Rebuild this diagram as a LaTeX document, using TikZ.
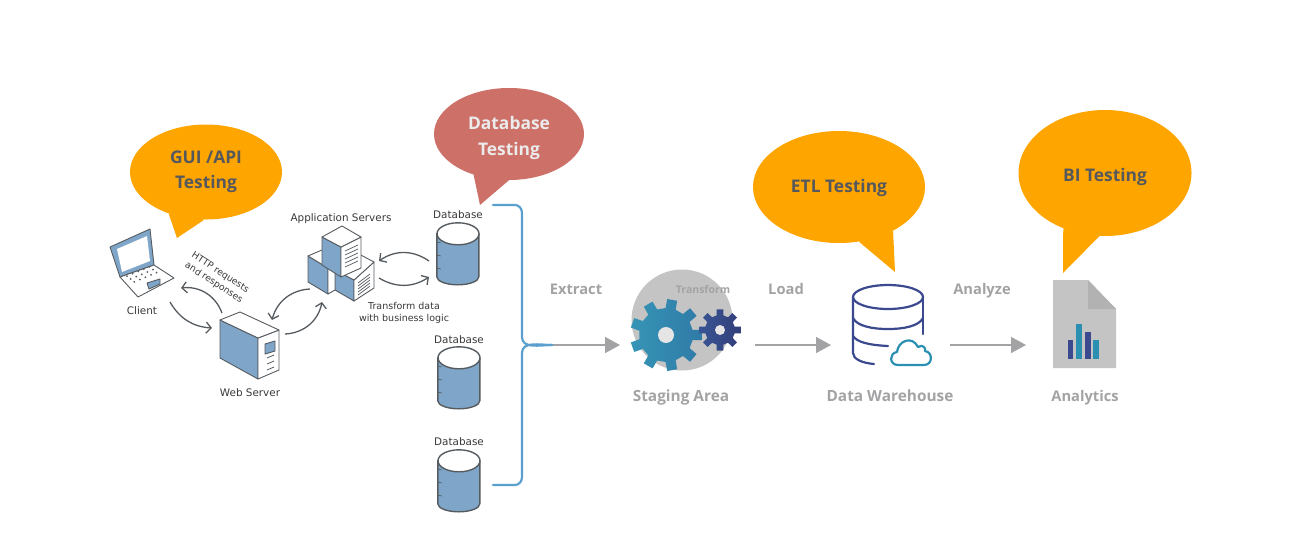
\documentclass[tikz,border=0pt]{standalone}
\usepackage{fontspec}
\setmainfont{Open Sans}
\newfontfamily\smallface{DejaVu Sans}
\usetikzlibrary{arrows.meta,shapes.geometric}
\definecolor{bubbleorange}{HTML}{FFA500}
\definecolor{bubblered}{HTML}{CD7068}
\definecolor{bubbletext}{HTML}{55585C}
\definecolor{boxblue}{HTML}{7FA6C9}
\definecolor{boxline}{HTML}{565B60}
\definecolor{bracketblue}{HTML}{5B9FCF}
\definecolor{fadegrey}{HTML}{A3A3A5}
\definecolor{navyblue}{HTML}{3B4A8F}
\definecolor{tealblue}{HTML}{2B8FB2}
\tikzset{
	bubble/.style={ellipse,inner sep=0pt,font=\fontsize{17.4}{25.5}\selectfont\bfseries,text=bubbletext,align=center},
	small/.style={font=\smallface\fontsize{10.4}{13}\selectfont,text=black!78,align=center,inner sep=0pt},
	fade/.style={anchor=base,font=\fontsize{14.7}{18}\selectfont\bfseries,text=fadegrey,inner sep=0pt},
	fadewide/.style={fade,font=\fontsize{15.4}{18}\selectfont\bfseries},
	dbase/.style={minimum width=42pt,minimum height=62pt,inner sep=0pt},
	face/.style={draw=boxline,line width=0.9pt,line join=round,fill=#1},
	flow/.style={draw=boxline,line width=1.3pt,-{Straight Barb[length=5pt,width=11pt]}},
	move/.style={draw=fadegrey,line width=1.6pt,-{Triangle[length=15pt,width=16pt]}},
	brace/.style={draw=bracketblue,line width=2.2pt,line cap=round},
	house/.style={draw=navyblue,line width=2.2pt,line cap=round},
}
\begin{document}
\begin{tikzpicture}[x=1pt,y=-1pt]
	\useasboundingbox (0,0) rectangle (1300,544);

	\node[bubble,fill=bubbleorange,minimum width=152pt,minimum height=95pt] (gui) at (206,172) {GUI /API\\Testing};
	\node[bubble,fill=bubblered,text=white!92!black,minimum width=150pt,minimum height=92pt] (dbt) at (509,134) {\rule{0pt}{21pt}Database\\Testing};
	\node[bubble,fill=bubbleorange,minimum width=172pt,minimum height=112pt] (etl) at (839,187) {\rule{0pt}{15pt}ETL Testing};
	\node[bubble,fill=bubbleorange,minimum width=173pt,minimum height=126pt] (bi) at (1105,173) {\rule{0pt}{22pt}BI Testing};
	\coordinate (guitip) at (177,238);
	\coordinate (dbttip) at (480,205);
	\coordinate (etltip) at (895,272);
	\coordinate (bitip) at (1063,273);
	\fill[bubbleorange] (gui.228) -- (guitip) -- (gui.268) -- cycle;
	\fill[bubblered] (dbt.229) -- (dbttip) -- (dbt.270) -- cycle;
	\fill[bubbleorange] (etl.290) -- (etltip) -- (etl.321) -- cycle;
	\fill[bubbleorange] (bi.233) -- (bitip) -- (bi.265) -- cycle;

	\path[face=boxblue] (110,247) -- (150,229) -- (154,265) -- (120,277) -- cycle;
	\path[face=white,draw=none] (117,249) -- (147,236) -- (150,261) -- (122,272) -- cycle;
	\path[face=white] (120,277) -- (154,265) -- (174,278) -- (138,297) -- cycle;
	\path[face=boxblue] (147,283) -- (160,279) -- (160,284) -- (149,289) -- cycle;
	\foreach \i in {0,...,4}
		\foreach \j in {0,1,2}
			\fill[boxline] ({127+\i*5.6+\j*3.6},{276-\i*2.3+\j*2.9}) circle (1pt);
	\node[small] (client) at (142,311) {Client};

	\path[face=boxblue] (220,320) -- (258,338) -- (258,379) -- (220,358) -- cycle;
	\path[face=white] (258,338) -- (279,330) -- (279,370) -- (258,379) -- cycle;
	\path[face=white] (220,320) -- (240,312) -- (279,330) -- (258,338) -- cycle;
	\path[face=boxblue] (265,344) -- (275,341) -- (275,351) -- (265,354) -- cycle;
	\foreach \i in {0,1,2}
		\draw[boxline,line width=0.8pt] (267,{358+\i*6}) -- (274,{355+\i*6});
	\node[small] (web) at (250,393) {Web Server};

	\path[face=boxblue] (335,270) -- (354,280) -- (354,301) -- (335,290) -- cycle;
	\path[face=white] (354,280) -- (374,262) -- (374,288) -- (354,301) -- cycle;
	\path[face=white] (335,270) -- (357,253) -- (374,262) -- (354,280) -- cycle;
	\foreach \i in {0,...,4}
		\draw[boxline,line width=0.7pt] (358,{283+\i*3}) -- (370,{274+\i*3});
	\path[face=boxblue] (308,256) -- (328,268) -- (328,294) -- (308,282) -- cycle;
	\path[face=white] (328,268) -- (335,265) -- (335,290) -- (328,294) -- cycle;
	\path[face=white] (308,256) -- (322,250) -- (335,265) -- (328,268) -- cycle;
	\path[face=boxblue] (322,237) -- (341,247) -- (341,277) -- (322,265) -- cycle;
	\path[face=white] (341,247) -- (361,237) -- (361,268) -- (341,277) -- cycle;
	\path[face=white] (322,237) -- (342,226) -- (361,237) -- (341,247) -- cycle;
	\foreach \i in {0,...,4}
		\draw[boxline,line width=0.7pt] (345,{251+\i*4}) -- (358,{245+\i*4});
	\node[small] (app) at (341,219) {Application Servers};
	\node[small,font=\smallface\fontsize{9.5}{12.5}\selectfont] (logic) at (404,313) {Transform data\\with business logic};
	\node[small,rotate=-33,font=\smallface\fontsize{9.2}{12}\selectfont] (http) at (217,278) {HTTP requests\\and responses};

	\node[dbase] (db1) at (458,254) {};
	\node[dbase] (db2) at (459,378) {};
	\node[dbase] (db3) at (459,481) {};
	\node[small] (db1label) at (458,215) {Database};
	\node[small] (db2label) at (459,340) {Database};
	\node[small] (db3label) at (459,442) {Database};
	\foreach \n in {db1,db2,db3} {
		\path[face=boxblue,line width=1.4pt] (\n.north west) ++(0,11) -- ++(0,43) arc[start angle=180,end angle=360,x radius=21pt,y radius=8pt] -- ++(0,-43) -- cycle;
		\path[face=white,line width=1.4pt] (\n.north) ++(0,11) ellipse (21pt and 11pt);
		\foreach \y in {-12,1,14}
			\draw[boxline,line width=0.7pt] (\n.west) ++(0,\y) -- ++(4,1);
	}

	\coordinate (cw) at (170,302);
	\coordinate (wc) at (212,328);
	\coordinate (ws) at (222,313);
	\coordinate (sc) at (181,288);
	\coordinate (wa) at (285,334);
	\coordinate (aw) at (322,302);
	\coordinate (as) at (310,289);
	\coordinate (sw) at (272,320);
	\coordinate (da) at (429,261);
	\coordinate (ad) at (379,261);
	\coordinate (ab) at (379,278);
	\coordinate (bd) at (429,277);
	\draw[flow] (cw) to[bend right=28] (wc);
	\draw[flow] (ws) to[bend right=38] (sc);
	\draw[flow] (wa) to[bend right=38] (aw);
	\draw[flow] (as) to[bend right=36] (sw);
	\draw[flow] (da) to[bend right=35] (ad);
	\draw[flow] (ab) to[bend right=32] (bd);

	\coordinate (brtop) at (493,205);
	\coordinate (brbot) at (493,485);
	\coordinate (brtip) at (552,345);
	\coordinate (extractend) at (620,345);
	\draw[move] (brtip) -- (extractend);
	\draw[brace] (brtop) -- (515,205) to[out=0,in=90] (522,213) -- (522,337) to[out=-90,in=180] (brtip);
	\draw[brace] (brbot) -- (515,485) to[out=0,in=-90] (522,477) -- (522,353) to[out=90,in=180] (brtip);

	\node[circle,fill=black!23,minimum size=101pt,inner sep=0pt] (staging) at (682,320) {};
	\node[inner sep=0pt,font=\fontsize{10.5}{12}\selectfont\bfseries,text=fadegrey] (transform) at (703,290) {Transform};
	\begin{scope}[shift={(666,335)}]
		\path[left color=tealblue!95!white,right color=tealblue!70!navyblue] (-11:27)
			\foreach \a in {0,40,...,320} { -- (\a-11:27) -- (\a-8:36) -- (\a+8:36) -- (\a+11:27) } -- cycle;
		\fill[black!10] (0,0) circle (8pt);
	\end{scope}
	\begin{scope}[shift={(720,330)}]
		\path[left color=navyblue!85!tealblue,right color=navyblue!85!black] (-13:15)
			\foreach \a in {0,45,...,315} { -- (\a-13:15) -- (\a-9:21) -- (\a+9:21) -- (\a+13:15) } -- cycle;
		\fill[black!10] (0,0) circle (5pt);
	\end{scope}

	\draw[house] (888,297) ellipse (35pt and 12pt);
	\draw[house] (853,297) -- (853,353) .. controls (853,359) and (862,363) .. (874,364);
	\draw[house] (923,297) -- (923,334);
	\draw[house] (853,318) .. controls (857,326) and (872,329) .. (888,329) .. controls (904,329) and (919,326) .. (923,318);
	\draw[house] (853,336) .. controls (857,342) and (868,345) .. (888,346);
	\draw[tealblue,line width=2.2pt,line join=round] (898,365) .. controls (889,365) and (889,353) .. (897,352) .. controls (898,341) and (912,335) .. (918,347) .. controls (923,344) and (926,348) .. (925,351) .. controls (933,352) and (933,365) .. (924,365) -- cycle;

	\fill[black!23] (1053,280) -- (1088,280) -- (1116,309) -- (1116,368) -- (1053,368) -- cycle;
	\fill[black!30] (1088,280) -- (1116,309) -- (1088,309) -- cycle;
	\fill[navyblue] (1068,340) rectangle (1073,359);
	\fill[tealblue] (1076,324) rectangle (1082,359);
	\fill[navyblue] (1085,332) rectangle (1091,359);
	\fill[tealblue] (1093,340) rectangle (1099,359);

	\node[fade] (extract) at (576,294) {Extract};
	\node[fade] (load) at (786,294) {Load};
	\node[fade] (analyze) at (982,294) {Analyze};
	\node[fadewide] (stagingtext) at (681,401) {Staging Area};
	\node[fadewide] (warehouse) at (890,401) {Data Warehouse};
	\node[fade] (analytics) at (1085,401) {Analytics};

	\coordinate (loadstart) at (755,345);
	\coordinate (loadend) at (831,345);
	\coordinate (analyzestart) at (950,345);
	\coordinate (analyzeend) at (1026,345);
	\draw[move] (loadstart) -- (loadend);
	\draw[move] (analyzestart) -- (analyzeend);
\end{tikzpicture}
\end{document}
